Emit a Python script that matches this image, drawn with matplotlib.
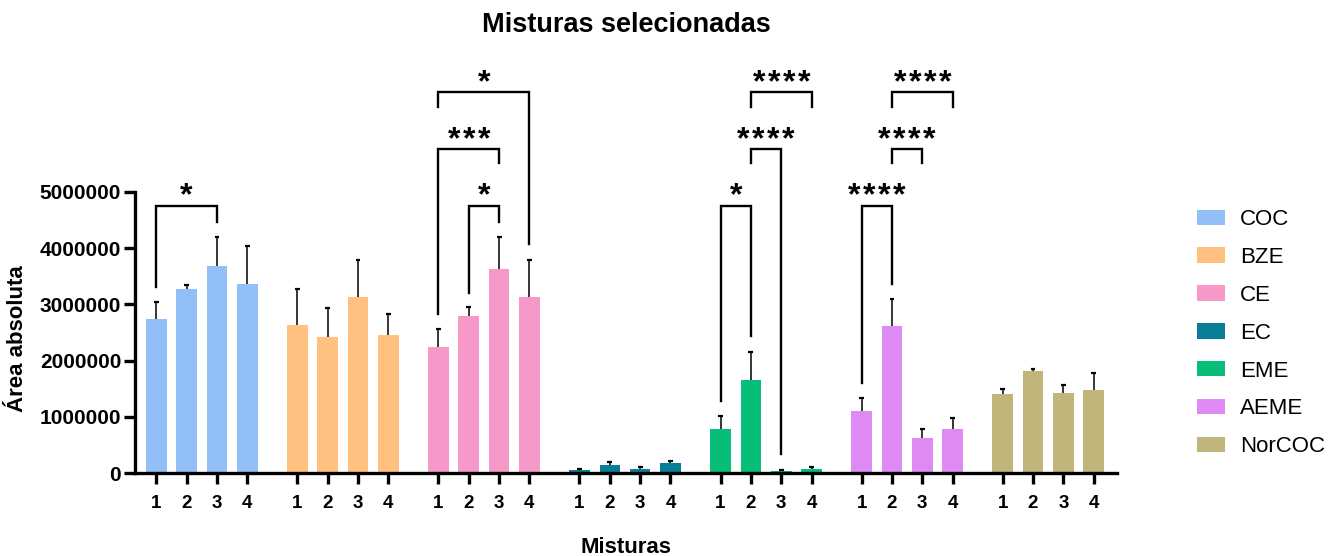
import matplotlib
matplotlib.use("Agg")
import matplotlib.pyplot as plt
from matplotlib.patches import Patch

plt.rcParams['font.family'] = ['Liberation Sans', 'DejaVu Sans']

# ---------------- data ----------------
compounds = ["COC", "BZE", "CE", "EC", "EME", "AEME", "NorCOC"]
mixtures = ["1", "2", "3", "4"]
colors = ["#93BFF8", "#FFC080", "#F799C8", "#087E97", "#06BE78", "#DD8AF5", "#C0B57A"]

coc_mean = [2740000, 3270000, 3680000, 3360000]
coc_err = [300000, 80000, 520000, 670000]
bze_mean = [2630000, 2420000, 3130000, 2460000]
bze_err = [650000, 510000, 650000, 360000]
ce_mean = [2240000, 2790000, 3630000, 3130000]
ce_err = [320000, 160000, 570000, 660000]
ec_mean = [60000, 150000, 80000, 180000]
ec_err = [20000, 50000, 30000, 40000]
eme_mean = [790000, 1660000, 40000, 80000]
eme_err = [220000, 490000, 20000, 40000]
aeme_mean = [1110000, 2620000, 630000, 790000]
aeme_err = [220000, 480000, 160000, 200000]
norcoc_mean = [1410000, 1820000, 1430000, 1480000]
norcoc_err = [90000, 30000, 130000, 300000]

means = [coc_mean, bze_mean, ce_mean, ec_mean, eme_mean, aeme_mean, norcoc_mean]
errs = [coc_err, bze_err, ce_err, ec_err, eme_err, aeme_err, norcoc_err]

# significance brackets: group index, bar a, bar b, level, label, left leg end, right leg end
br_group = [0, 2, 2, 2, 4, 4, 4, 5, 5, 5]
br_a = [0, 1, 0, 0, 0, 1, 1, 0, 1, 1]
br_b = [2, 2, 2, 3, 1, 2, 3, 1, 2, 3]
br_level = [4750000, 4750000, 5760000, 6770000, 4750000, 5760000, 6770000, 4750000, 5760000, 6770000]
br_label = ["*", "*", "***", "*", "*", "****", "****", "****", "****", "****"]
br_left_end = [3310000, 3210000, 2830000, 6510000, 1290000, 5510000, 6510000, 1600000, 5510000, 6510000]
br_right_end = [4470000, 4470000, 5510000, 4070000, 2430000, 340000, 6510000, 3370000, 5510000, 6510000]

y_ticks = [0, 1000000, 2000000, 3000000, 4000000, 5000000]

# ---------------- layout ----------------
group_step = 4.65
bar_w = 0.68
star_pitch = 0.495  # horizontal spacing of asterisks (x units)

fig = plt.figure(figsize=(13.37, 5.56), dpi=100)
ax = fig.add_axes([0.101, 0.1487, 0.7345, 0.7598])

def xpos(g, i):
    return g * group_step + i

tick_pos = []
tick_lab = []
for g, (m, e) in enumerate(zip(means, errs)):
    xs = [xpos(g, i) for i in range(len(m))]
    ax.bar(xs, m, width=bar_w, color=colors[g], zorder=1)
    tops = [mv + ev for mv, ev in zip(m, e)]
    ax.vlines(xs, m, tops, color="black", lw=1.1, zorder=2)
    ax.hlines(tops, [x - 0.08 for x in xs], [x + 0.08 for x in xs], color="black", lw=1.6, zorder=2)
    tick_pos += xs
    tick_lab += mixtures

for g, a, b, lev, lab, le, re in zip(br_group, br_a, br_b, br_level, br_label, br_left_end, br_right_end):
    xa, xb = xpos(g, a), xpos(g, b)
    ax.plot([xa, xa, xb, xb], [le, lev, lev, re], color="black", lw=1.7,
            solid_joinstyle="miter", clip_on=False, zorder=3)
    xc = (xa + xb) / 2
    n = len(lab)
    for k, ch in enumerate(lab):
        ax.text(xc + (k - (n - 1) / 2) * star_pitch, lev + 20000, ch, ha="center", va="baseline",
                fontsize=23, fontweight="bold", clip_on=False)

ax.set_xlim(-0.70, 6 * group_step + 3 + 0.77)
ax.set_ylim(0, 7500000)

ax.set_xticks(tick_pos)
ax.set_xticklabels(tick_lab, fontsize=13.5, fontweight="bold")
ax.set_yticks(y_ticks)
ax.set_yticklabels([str(v) for v in y_ticks], fontsize=15, fontweight="bold")
ax.tick_params(axis="x", length=8, width=2.4, pad=7.5)
ax.tick_params(axis="y", length=8, width=2.4, pad=2)

for s in ["top", "right"]:
    ax.spines[s].set_visible(False)
ax.spines["left"].set_bounds(0, 5000000)
ax.spines["left"].set_linewidth(2.4)
ax.spines["bottom"].set_linewidth(2.4)

ax.set_ylabel("Área absoluta", fontsize=16, fontweight="bold")
ax.yaxis.set_label_coords(-0.109, 0.318)
ax.set_xlabel("Misturas", fontsize=16, fontweight="bold")
ax.xaxis.set_label_coords(0.5, -0.150)

fig.text(626 / 1337, 1 - 31.7 / 556, "Misturas selecionadas", ha="center", va="baseline",
         fontsize=19.5, fontweight="bold")

handles = [Patch(facecolor=c, edgecolor="none") for c in colors]
fig.legend(handles, compounds, loc="upper left", bbox_to_anchor=(1197 / 1337, 1 - 209 / 556),
           frameon=False, fontsize=16, handlelength=1.26, handleheight=0.68,
           handletextpad=0.68, labelspacing=0.76, borderpad=0, borderaxespad=0)

fig.savefig("out.png", dpi=100)
